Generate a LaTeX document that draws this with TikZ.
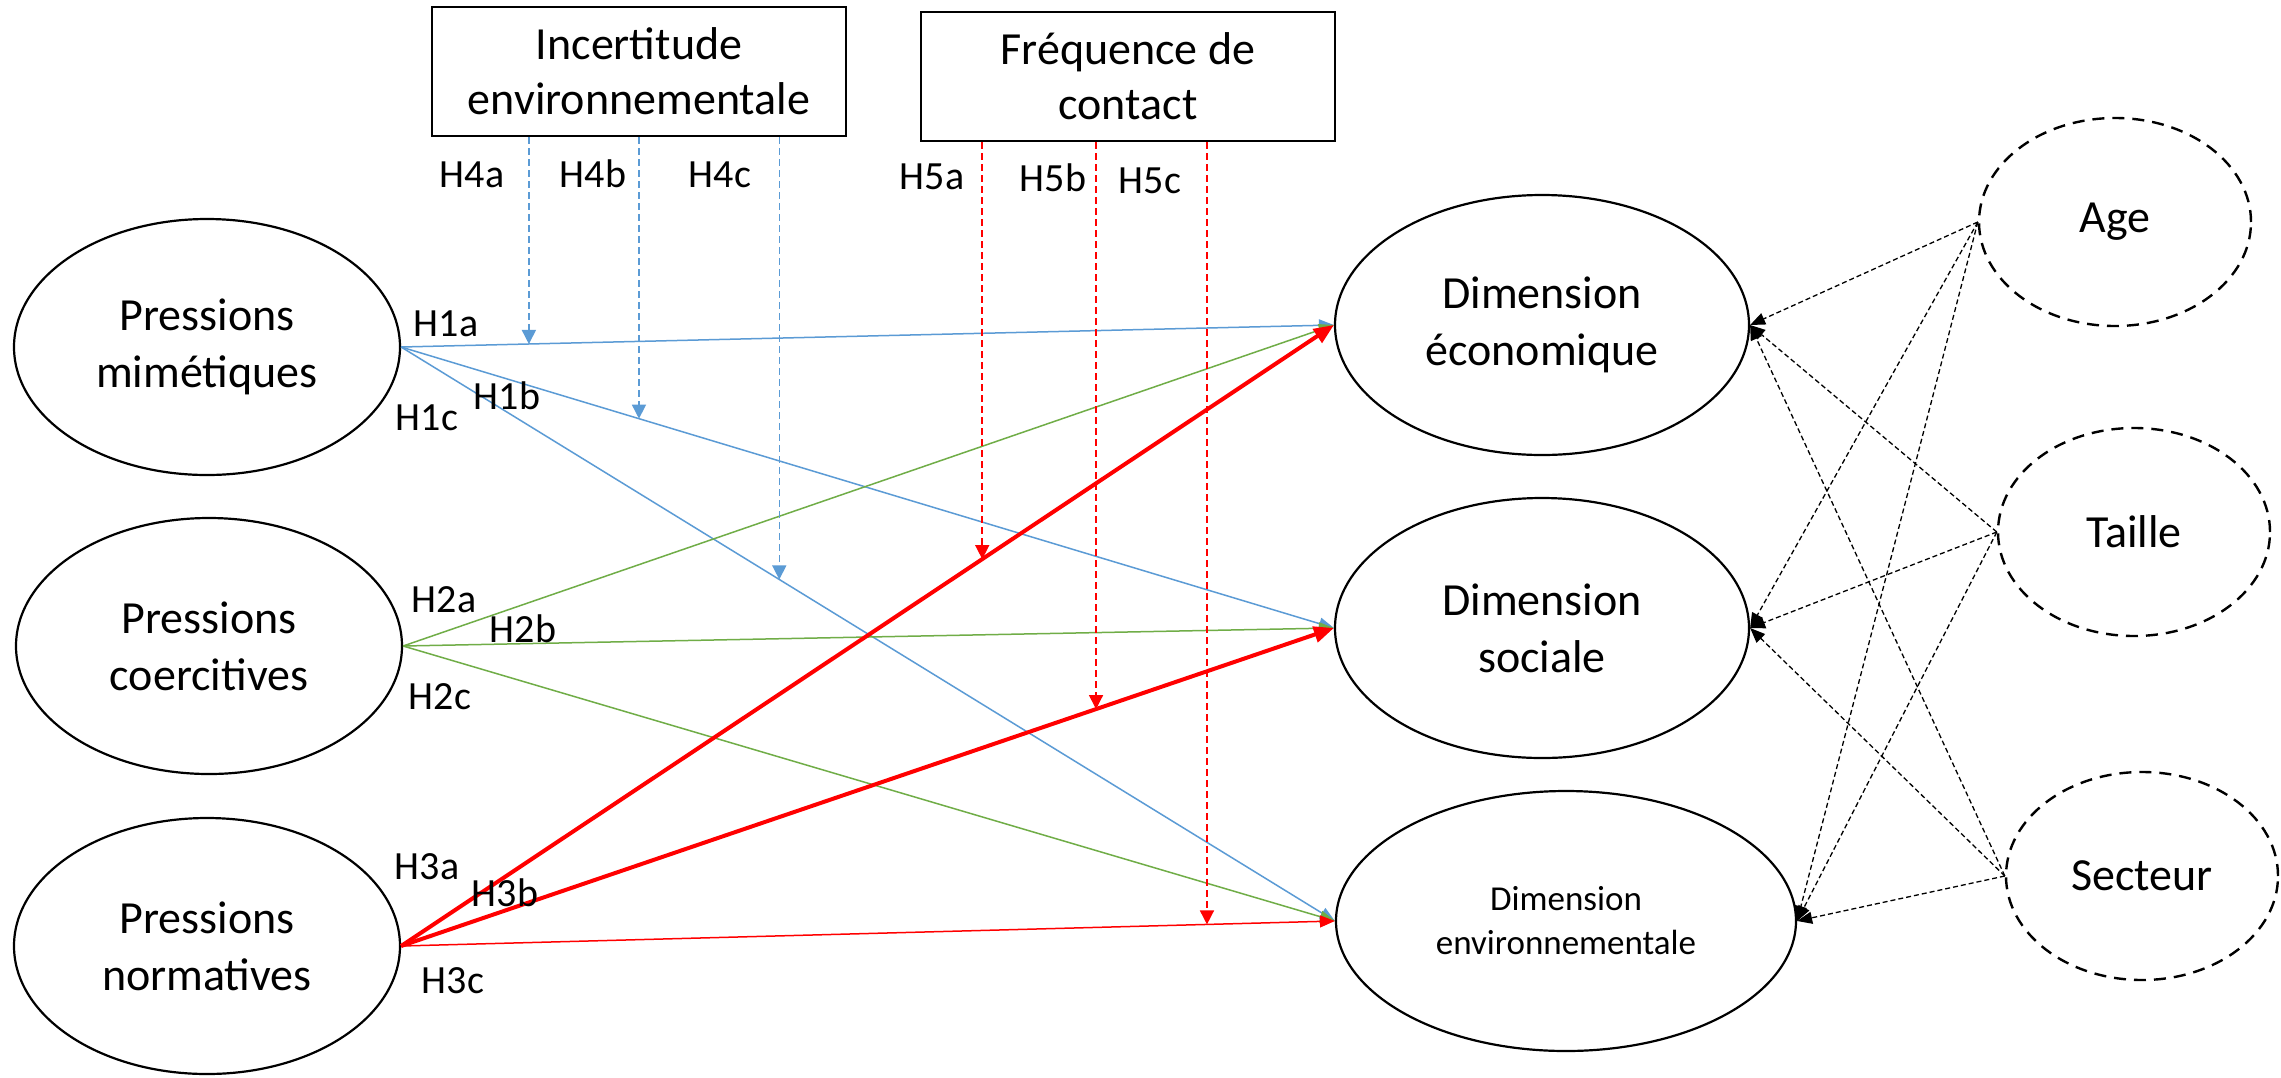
\documentclass[tikz,border=0pt]{standalone}
\usepackage{fontspec}
\setmainfont{Carlito}
\usetikzlibrary{arrows.meta,calc,shapes.geometric}
\definecolor{cblue}{RGB}{91,155,213}
\definecolor{cgreen}{RGB}{112,173,71}
\definecolor{cred}{RGB}{255,0,0}
\begin{document}
\begin{tikzpicture}[x=1pt,y=-1pt,
  mainell/.style={ellipse,draw,line width=2.2pt,inner sep=0pt,align=center,
    minimum width=386pt,minimum height=256pt,font=\fontsize{46}{57}\selectfont},
  outell/.style={mainell,minimum width=414pt,minimum height=260pt},
  ctrlell/.style={ellipse,draw,line width=2.4pt,dash pattern=on 12pt off 8pt,inner sep=0pt,
    minimum width=272pt,minimum height=208pt,font=\fontsize{46}{57}\selectfont},
  modbox/.style={draw,line width=2.4pt,inner sep=0pt,align=center,
    minimum width=414pt,minimum height=129pt,font=\fontsize{46}{55}\selectfont},
  lab/.style={anchor=base,inner sep=0pt,font=\fontsize{40}{48}\selectfont},
  thinarr/.style={line width=1.5pt,-{Triangle[length=15pt,width=12pt]}},
  thickarr/.style={line width=4pt,-{Triangle[length=20pt,width=16pt]}},
  modarr/.style={line width=1.5pt,dash pattern=on 7pt off 4pt,-{Triangle[length=14pt,width=14pt]}},
  ctrlarr/.style={line width=1.3pt,dash pattern=on 5pt off 3pt,-{Triangle[length=15pt,width=12pt]}}
]
\fill[white] (0,0) rectangle (2281,1077);
\useasboundingbox (0,0) rectangle (2281,1077);

% boxes
\node[modbox] (inc) at (639,71.5) {Incertitude\\environnementale};
\node[modbox] (fre) at (1128,76.5) {Fréquence de\\contact};

% left ellipses
\node[mainell] (mim) at (207,347) {Pressions\\mimétiques};
\node[mainell] (coe) at (209,646) {Pressions\\coercitives};
\node[mainell] (nor) at (207,946) {Pressions\\normatives};

% right ellipses
\node[outell] (eco) at (1542,325) {Dimension\\économique};
\node[outell] (soc) at (1542,628) {Dimension\\sociale};
\node[outell,minimum width=460pt,font=\fontsize{35}{44}\selectfont] (env) at (1566,921) {Dimension\\environnementale};

% control ellipses
\node[ctrlell] (age) at (2115,222) {Age};
\node[ctrlell] (tai) at (2134,532) {Taille};
\node[ctrlell] (sec) at (2142,876) {Secteur};

% main paths
\draw[thinarr,cblue] (mim.east) -- (eco.west);
\draw[thinarr,cblue] (mim.east) -- (soc.west);
\draw[thinarr,cblue] (mim.east) -- (env.west);
\draw[thinarr,cgreen] (coe.east) -- (eco.west);
\draw[thinarr,cgreen] (coe.east) -- (soc.west);
\draw[thinarr,cgreen] (coe.east) -- (env.west);
\draw[thickarr,cred] (nor.east) -- (eco.west);
\draw[thickarr,cred] (nor.east) -- (soc.west);
\draw[thinarr,cred] (nor.east) -- (env.west);

% moderator targets
\coordinate (p4a) at ($(mim.east)!0.137!(eco.west)$);
\coordinate (p4b) at ($(mim.east)!0.255!(soc.west)$);
\coordinate (p4c) at ($(mim.east)!0.405!(env.west)$);
\coordinate (p5a) at ($(nor.east)!0.623!(eco.west)$);
\coordinate (p5b) at ($(nor.east)!0.745!(soc.west)$);
\coordinate (p5c) at ($(nor.east)!0.863!(env.west)$);
\draw[modarr,cblue] (inc.south -| p4a) -- (p4a);
\draw[modarr,cblue] (inc.south -| p4b) -- (p4b);
\draw[modarr,cblue] (inc.south -| p4c) -- (p4c);
\draw[modarr,cred] (fre.south -| p5a) -- (p5a);
\draw[modarr,cred] (fre.south -| p5b) -- (p5b);
\draw[modarr,cred] (fre.south -| p5c) -- (p5c);

% control arrows
\foreach \s in {age,tai,sec}{
  \foreach \t in {eco,soc,env}{
    \draw[ctrlarr] (\s.west) -- (\t.east);
  }
}

% labels
\node[lab] (l4a) at (472,187) {H4a};
\node[lab] (l4b) at (593,187) {H4b};
\node[lab] (l4c) at (720,187) {H4c};
\node[lab] (l5a) at (932,189) {H5a};
\node[lab] (l5b) at (1053,191) {H5b};
\node[lab] (l5c) at (1150,193) {H5c};
\node[lab] (l1a) at (446,336) {H1a};
\node[lab] (l1b) at (507,409) {H1b};
\node[lab] (l1c) at (427,430) {H1c};
\node[lab] (l2a) at (444,612) {H2a};
\node[lab] (l2b) at (523,642) {H2b};
\node[lab] (l2c) at (440,709) {H2c};
\node[lab] (l3a) at (427,879) {H3a};
\node[lab] (l3b) at (505,906) {H3b};
\node[lab] (l3c) at (453,993) {H3c};
\end{tikzpicture}
\end{document}
